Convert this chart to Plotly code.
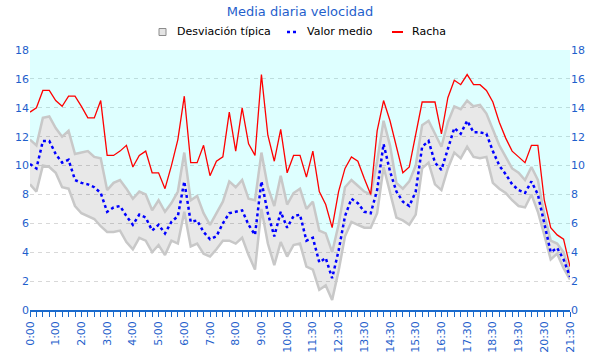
import plotly.graph_objects as go

# Category labels (15-minute steps; 11:00 and 11:15 absent in source)
times = [f"{h}:{m:02d}" for h in range(0, 11) for m in (0, 15, 30, 45)] + \
        [f"{h}:{m:02d}" for h in range(11, 22) for m in (0, 15, 30, 45)
         if (h, m) >= (11, 30) and (h, m) <= (21, 30)]

racha = [13.7, 14.0, 15.2, 15.2, 14.5, 14.1, 14.8, 14.8, 14.1, 13.3, 13.3, 14.5, 10.7, 10.7, 11.0,
         11.4, 9.9, 10.7, 11.0, 9.5, 9.5, 8.4, 10.0, 11.8, 14.8, 10.2, 10.2, 11.4, 9.3, 10.3,
         10.6, 13.7, 11.0, 14.0, 11.5, 10.7, 16.3, 12.1, 10.3, 12.5, 9.5, 10.7, 10.7, 9.2, 11.0,
         8.2, 7.3, 5.7, 8.2, 9.8, 10.6, 10.3, 9.1, 8.0, 12.4, 14.5, 13.1, 11.3, 9.5, 9.9,
         12.1, 14.4, 14.4, 14.4, 12.2, 14.7, 15.9, 15.6, 16.3, 15.6, 15.6, 15.2, 14.4, 13.0, 11.9,
         11.0, 10.6, 10.2, 11.4, 11.4, 7.6, 5.7, 5.2, 4.9, 3.0]

media = [10.1, 9.8, 11.7, 11.7, 10.8, 10.2, 10.4, 9.0, 8.8, 8.7, 8.5, 8.1, 6.8, 7.1, 7.2,
         6.5, 5.9, 6.6, 6.4, 5.5, 5.9, 5.3, 6.1, 6.5, 8.9, 6.1, 6.2, 5.4, 4.9, 5.1,
         6.0, 6.7, 6.8, 6.9, 5.9, 5.2, 8.9, 6.7, 5.1, 6.8, 5.7, 6.5, 6.6, 4.8, 5.0,
         3.3, 3.6, 2.2, 4.1, 6.5, 7.7, 7.4, 6.8, 6.7, 8.3, 11.5, 9.6, 8.2, 7.5, 7.2,
         8.2, 11.3, 11.7, 10.2, 9.7, 11.2, 12.6, 12.2, 13.1, 12.3, 12.3, 12.2, 11.0, 10.0, 9.4,
         8.7, 8.3, 8.1, 8.9, 8.0, 6.0, 4.0, 4.3, 3.5, 2.3]

desv_sup = [11.8, 11.4, 13.3, 13.4, 12.6, 12.0, 12.4, 10.8, 10.9, 11.0, 10.6, 10.5, 8.3, 8.8, 9.0,
            8.4, 7.7, 8.2, 8.0, 6.9, 7.6, 6.8, 7.4, 8.2, 10.9, 7.6, 7.9, 6.7, 5.9, 6.7,
            7.5, 8.9, 8.5, 9.0, 7.7, 7.6, 10.9, 8.5, 7.2, 9.3, 7.3, 8.1, 8.4, 7.0, 7.5,
            5.5, 5.3, 4.0, 5.9, 8.5, 9.0, 8.6, 8.2, 8.0, 10.3, 13.1, 11.4, 8.8, 8.4, 8.9,
            10.0, 12.8, 13.1, 12.2, 11.3, 13.0, 14.1, 13.9, 14.5, 14.1, 14.2, 13.6, 12.5, 11.4, 10.6,
            9.8, 9.5, 9.0, 9.9, 9.0, 6.6, 4.8, 4.6, 4.0, 2.5]

desv_inf = [8.7, 8.2, 10.0, 9.9, 9.5, 8.5, 8.4, 7.2, 6.7, 6.5, 6.3, 5.8, 5.4, 5.4, 5.5,
            4.7, 4.2, 5.0, 4.8, 4.0, 4.5, 3.8, 4.8, 4.6, 6.8, 4.4, 4.6, 3.9, 3.7, 4.2,
            4.8, 4.8, 4.6, 5.0, 3.8, 2.8, 7.0, 4.6, 3.1, 4.7, 3.7, 4.5, 4.6, 3.0, 2.8,
            1.4, 1.7, 0.7, 2.7, 5.1, 6.1, 5.9, 5.7, 5.7, 6.7, 9.9, 8.2, 6.4, 6.2, 5.9,
            6.6, 9.8, 10.2, 8.7, 8.3, 9.8, 10.9, 10.5, 11.3, 10.6, 10.5, 10.6, 8.8, 8.4, 8.1,
            7.6, 7.2, 7.1, 8.0, 6.8, 5.2, 3.5, 3.9, 2.9, 2.1]

series_names = ["Desviación típica", "Valor medio", "Racha"]
y_max = 18
y_ticks = list(range(0, 19, 2))

idx = list(range(len(times)))
blue_txt = "#1f5fcc"
font = "DejaVu Sans"

W, H = 600, 360
ML, MR, MT, MB = 30, 30, 50, 50


def px(x):
    return (x - ML) / (W - ML - MR)


def py(y):
    return (H - MB - y) / (H - MT - MB)


fig = go.Figure()
fig.add_trace(go.Scatter(x=idx, y=desv_inf, mode="lines",
                         line=dict(color="#c8c8c8", width=2.5),
                         showlegend=False, hoverinfo="skip"))
fig.add_trace(go.Scatter(x=idx, y=desv_sup, mode="lines", name=series_names[0],
                         line=dict(color="#c8c8c8", width=2.5), showlegend=False,
                         fill="tonexty", fillcolor="rgba(0,0,0,0.09)"))
fig.add_trace(go.Scatter(x=idx, y=[y_max] * len(idx), mode="lines",
                         line=dict(width=0), fill="tonexty",
                         fillcolor="rgba(0,255,255,0.13)",
                         showlegend=False, hoverinfo="skip"))
fig.add_trace(go.Scatter(x=idx, y=media, mode="lines", name=series_names[1], showlegend=False,
                         line=dict(color="#0000ff", width=2.5, dash="3px,3px")))
fig.add_trace(go.Scatter(x=idx, y=racha, mode="lines", name=series_names[2], showlegend=False,
                         line=dict(color="#ff0000", width=1.3)))
fig.add_trace(go.Scatter(x=[0], y=[0], yaxis="y2", mode="markers",
                         marker=dict(opacity=0), showlegend=False, hoverinfo="skip"))

# Compact legend drawn like the original (small symbols)
ly = 32
shapes = [
    dict(type="rect", xref="paper", yref="paper", x0=px(159), x1=px(166),
         y0=py(ly + 3.5), y1=py(ly - 3.5), fillcolor="#e4e4e4",
         line=dict(color="#8c8c8c", width=1)),
    dict(type="line", xref="paper", yref="paper", x0=px(287), x1=px(298),
         y0=py(ly), y1=py(ly), line=dict(color="#0000ff", width=2.5, dash="3px,3px")),
    dict(type="line", xref="paper", yref="paper", x0=px(392), x1=px(403),
         y0=py(ly), y1=py(ly), line=dict(color="#ff0000", width=2)),
]
annotations = []
for name, x0 in zip(series_names, [176, 306, 411]):
    annotations.append(dict(text=name, xref="paper", yref="paper", x=px(x0), y=py(ly - 0.5),
                            xanchor="left", yanchor="middle", showarrow=False,
                            xshift=-1,
                            font=dict(family=font, size=11, color="black")))

fig.update_layout(
    width=W, height=H,
    margin=dict(l=ML, r=MR, t=MT, b=MB),
    paper_bgcolor="white", plot_bgcolor="white",
    font=dict(family=font, size=11, color=blue_txt),
    title=dict(text="Media diaria velocidad", x=0.5, xanchor="center",
               y=1 - 11.5 / H, yanchor="middle",
               font=dict(family=font, size=13, color=blue_txt)),
    shapes=shapes, annotations=annotations,
    xaxis=dict(range=[0, len(idx) - 1], tickmode="array", automargin=False,
               tickvals=idx[::4], ticktext=times[::4], tickangle=-90,
               showgrid=False, zeroline=False,
               showline=True, linecolor="#1a6acc", linewidth=1.5,
               ticks="outside", ticklen=5, tickcolor="#1a6acc",
               minor=dict(ticks="outside", ticklen=5, tickcolor="#1a6acc", dtick=1, tick0=0,
                          showgrid=False),
               tickfont=dict(size=11, color=blue_txt)),
    yaxis=dict(range=[0, y_max], tickvals=y_ticks, showgrid=True, automargin=False,
               gridcolor="#d8d8d8", griddash="4px,4px", gridwidth=1,
               zeroline=False, showline=False, ticks="",
               tickfont=dict(size=11, color=blue_txt)),
    yaxis2=dict(range=[0, y_max], tickvals=y_ticks, overlaying="y", side="right",
                automargin=False,
                showgrid=False, zeroline=False, showline=False, ticks="",
                tickfont=dict(size=11, color=blue_txt)),
    showlegend=False,
)

fig.write_html("out.html", config={"displayModeBar": False},
               post_script="document.body.style.margin='0';")
